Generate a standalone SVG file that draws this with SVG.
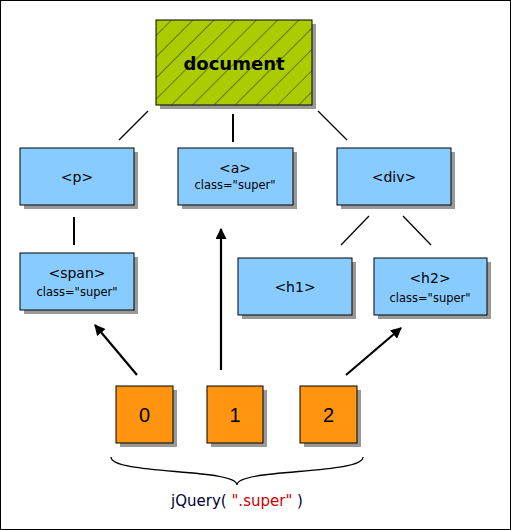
<svg xmlns="http://www.w3.org/2000/svg" width="511" height="530" viewBox="0 0 511 530">
<defs>
<pattern id="hatch" patternUnits="userSpaceOnUse" width="15" height="15" patternTransform="rotate(45)">
<rect width="15" height="15" fill="#aacc00"/>
<line x1="0" y1="0" x2="0" y2="15" stroke="#111" stroke-width="0.9"/>
</pattern>
<marker id="arr" viewBox="0 0 10 10" refX="9" refY="5" markerWidth="5" markerHeight="5" orient="auto" markerUnits="strokeWidth">
<path d="M0,0 L10,5 L0,10 Z" fill="#000"/>
</marker>
<style>
.sh{fill:#999}
.bx{fill:#88ccff;stroke:#000;stroke-width:1}
.ob{fill:#ff9410;stroke:#000;stroke-width:1}
.t{font-family:"DejaVu Sans",Verdana,sans-serif;font-size:14px;text-anchor:middle;fill:#000}
.c{font-family:"DejaVu Sans",Verdana,sans-serif;font-size:11.5px;text-anchor:middle;fill:#000}
.d{font-family:"Liberation Sans",Arial,sans-serif;font-size:20px;text-anchor:middle;fill:#000}
.ln{stroke:#000;stroke-width:1.3;fill:none}
.ar{stroke:#000;stroke-width:2.2;fill:none;marker-end:url(#arr)}
</style>
</defs>
<rect x="0.5" y="0.5" width="510" height="529" fill="#fff" stroke="#000"/>
<g id="connectors">
<line class="ln" x1="148" y1="111" x2="119" y2="140"/>
<line class="ln" x1="233" y1="114" x2="233" y2="142" style="stroke-width:2"/>
<line class="ln" x1="318" y1="111" x2="347" y2="140"/>
<line class="ln" x1="74" y1="217" x2="74" y2="245" style="stroke-width:2"/>
<line class="ln" x1="369" y1="216" x2="341" y2="245"/>
<line class="ln" x1="403" y1="216" x2="431" y2="245"/>
<line class="ar" x1="137" y1="375" x2="95" y2="325"/>
<line class="ar" x1="221" y1="370" x2="221" y2="229"/>
<line class="ar" x1="346" y1="375" x2="401" y2="328"/>
<path d="M111,457 C111,475 237,468 237,485 C237,468 363,475 363,457" fill="none" stroke="#000" stroke-width="1.3"/>
</g>
<g id="document">
<rect class="sh" x="160" y="24" width="156" height="85"/>
<rect x="156" y="20" width="156" height="85" fill="url(#hatch)" stroke="#000"/>
<text x="234" y="70" font-family="DejaVu Sans,Verdana,sans-serif" font-size="18" font-weight="bold" text-anchor="middle">document</text>
</g>
<g id="p">
<rect class="sh" x="24" y="152" width="114" height="57"/>
<rect class="bx" x="20" y="148" width="114" height="57"/>
<text class="t" x="77" y="182">&lt;p&gt;</text>
</g>
<g id="a">
<rect class="sh" x="182" y="152" width="115" height="57"/>
<rect class="bx" x="178" y="148" width="115" height="57"/>
<text class="t" x="235" y="173">&lt;a&gt;</text>
<text class="c" x="235" y="189">class="super"</text>
</g>
<g id="div">
<rect class="sh" x="341" y="152" width="114" height="57"/>
<rect class="bx" x="337" y="148" width="114" height="57"/>
<text class="t" x="394" y="182">&lt;div&gt;</text>
</g>
<g id="span">
<rect class="sh" x="24" y="257" width="114" height="57"/>
<rect class="bx" x="20" y="253" width="114" height="57"/>
<text class="t" x="77" y="278">&lt;span&gt;</text>
<text class="c" x="77" y="296">class="super"</text>
</g>
<g id="h1">
<rect class="sh" x="242" y="262" width="114" height="57"/>
<rect class="bx" x="238" y="258" width="114" height="57"/>
<text class="t" x="295" y="292">&lt;h1&gt;</text>
</g>
<g id="h2">
<rect class="sh" x="378" y="262" width="113" height="57"/>
<rect class="bx" x="374" y="258" width="113" height="57"/>
<text class="t" x="430" y="283">&lt;h2&gt;</text>
<text class="c" x="430" y="302">class="super"</text>
</g>
<g id="item0">
<rect class="sh" x="120" y="390" width="57" height="57"/>
<rect class="ob" x="116" y="386" width="57" height="57"/>
<text class="d" x="144.5" y="422">0</text>
</g>
<g id="item1">
<rect class="sh" x="211" y="390" width="56" height="57"/>
<rect class="ob" x="207" y="386" width="56" height="57"/>
<text class="d" x="235" y="422">1</text>
</g>
<g id="item2">
<rect class="sh" x="304" y="390" width="57" height="57"/>
<rect class="ob" x="300" y="386" width="57" height="57"/>
<text class="d" x="328.5" y="422">2</text>
</g>
<g id="label">
<text x="237" y="506" font-family="DejaVu Sans,Verdana,sans-serif" font-size="15" text-anchor="middle" fill="#000033">jQuery( <tspan fill="#cc0000">".super"</tspan> )</text>
</g>
</svg>
